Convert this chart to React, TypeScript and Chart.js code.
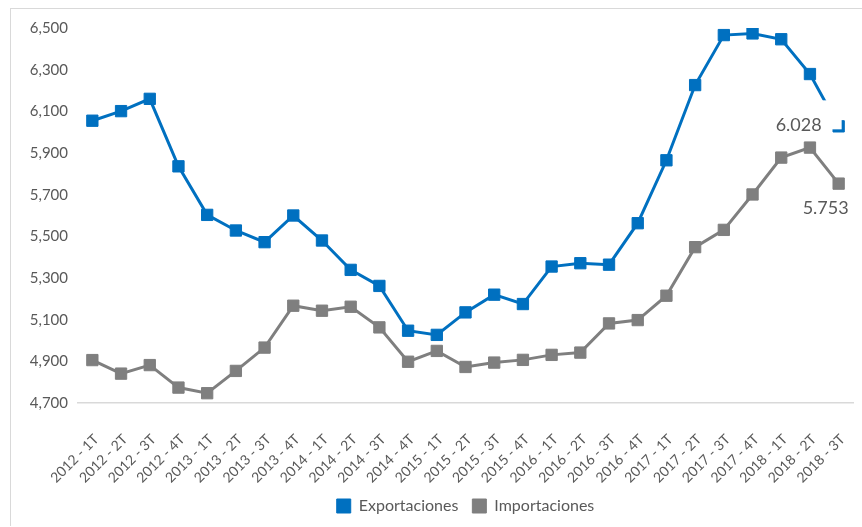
import React, { useEffect, useRef } from "react";
import { Chart, registerables } from "chart.js";

Chart.register(...registerables);

const categorias = [
  "2012 - 1T", "2012 - 2T", "2012 - 3T", "2012 - 4T",
  "2013 - 1T", "2013 - 2T", "2013 - 3T", "2013 - 4T",
  "2014 - 1T", "2014 - 2T", "2014 - 3T", "2014 - 4T",
  "2015 - 1T", "2015 - 2T", "2015 - 3T", "2015 - 4T",
  "2016 - 1T", "2016 - 2T", "2016 - 3T", "2016 - 4T",
  "2017 - 1T", "2017 - 2T", "2017 - 3T", "2017 - 4T",
  "2018 - 1T", "2018 - 2T", "2018 - 3T",
];

const exportaciones = [
  6055, 6101, 6160, 5836,
  5603, 5528, 5472, 5600,
  5480, 5339, 5262, 5047,
  5027, 5135, 5220, 5175,
  5355, 5371, 5364, 5563,
  5865, 6226, 6466, 6474,
  6446, 6279, 6028,
];

const importaciones = [
  4906, 4841, 4882, 4774,
  4747, 4854, 4966, 5167,
  5143, 5162, 5063, 4898,
  4950, 4873, 4894, 4907,
  4931, 4942, 5082, 5098,
  5215, 5448, 5531, 5701,
  5878, 5926, 5753,
];

const yMin = 4700;
const yMax = 6500;
const yStep = 200;

const FONT = "Lato";
const TEXT = "#595959";
const BLUE = "#0070C0";
const GRAY = "#7F7F7F";

const fmtPunto = (v: number) => {
  const s = String(Math.round(v));
  return s.replace(/\B(?=(\d{3})+(?!\d))/g, ".");
};
const fmtComa = (v: number) => {
  const s = String(Math.round(v));
  return s.replace(/\B(?=(\d{3})+(?!\d))/g, ",");
};

const lastLabels = {
  id: "lastLabels",
  afterDatasetsDraw(chart: any) {
    const ctx = chart.ctx;
    const n = categorias.length - 1;
    const p0 = chart.getDatasetMeta(0).data[n];
    const p1 = chart.getDatasetMeta(1).data[n];
    ctx.save();
    ctx.fillStyle = "#ffffff";
    ctx.fillRect(p0.x - 78, p0.y - 26, 81, 29);
    ctx.font = `18px ${FONT}`;
    ctx.fillStyle = TEXT;
    ctx.textBaseline = "middle";
    ctx.textAlign = "right";
    ctx.fillText(fmtPunto(exportaciones[n]), p0.x - 17, p0.y - 1);
    ctx.textAlign = "center";
    ctx.fillText(fmtPunto(importaciones[n]), p1.x - 13, p1.y + 25);
    ctx.restore();
  },
};

export default function App() {
  const ref = useRef<HTMLCanvasElement | null>(null);

  useEffect(() => {
    if (!ref.current) return;
    const chart = new Chart(ref.current, {
      type: "line",
      data: {
        labels: categorias,
        datasets: [
          {
            label: "Exportaciones",
            data: exportaciones,
            borderColor: BLUE,
            backgroundColor: BLUE,
            borderWidth: 3,
            pointStyle: "rect",
            pointRadius: 8,
            pointBorderWidth: 1,
            pointBackgroundColor: BLUE,
            pointBorderColor: BLUE,
            tension: 0,
          },
          {
            label: "Importaciones",
            data: importaciones,
            borderColor: GRAY,
            backgroundColor: GRAY,
            borderWidth: 3,
            pointStyle: "rect",
            pointRadius: 8,
            pointBorderWidth: 1,
            pointBackgroundColor: GRAY,
            pointBorderColor: GRAY,
            tension: 0,
          },
        ],
      },
      options: {
        animation: false,
        responsive: true,
        maintainAspectRatio: false,
        layout: { padding: { top: 19, right: 2, left: 0, bottom: 2 } },
        plugins: {
          legend: {
            position: "bottom",
            fullSize: false,
            labels: {
              usePointStyle: true,
              boxWidth: 14,
              boxHeight: 14,
              padding: 14,
              color: TEXT,
              font: { family: FONT, size: 16 },
            },
          },
          tooltip: { enabled: false },
        },
        scales: {
          x: {
            offset: true,
            grid: { display: false, drawTicks: false },
            border: { display: true, color: "#D9D9D9", width: 1.5 },
            ticks: {
              autoSkip: false,
              minRotation: 45,
              maxRotation: 45,
              padding: 28,
              labelOffset: 4,
              color: TEXT,
              font: { family: FONT, size: 14 },
            },
            afterFit: (s: any) => {
              s.height = 81;
              s.paddingLeft = 0;
              s.paddingRight = 0;
            },
          },
          y: {
            min: yMin,
            max: yMax,
            grid: { display: false, drawTicks: false },
            border: { display: false },
            ticks: {
              stepSize: yStep,
              padding: 10,
              color: TEXT,
              font: { family: FONT, size: 15 },
              callback: (v: any) => fmtComa(Number(v)),
            },
            afterFit: (s: any) => {
              s.width = 67;
            },
          },
        },
      },
      plugins: [lastLabels],
    });
    return () => chart.destroy();
  }, []);

  return (
    <div
      style={{
        position: "absolute",
        left: 10,
        top: 8,
        width: 851,
        height: 517,
        borderTop: "1px solid #D9D9D9",
        borderLeft: "1px solid #D9D9D9",
        background: "#fff",
      }}
    >
      <canvas ref={ref} />
    </div>
  );
}
